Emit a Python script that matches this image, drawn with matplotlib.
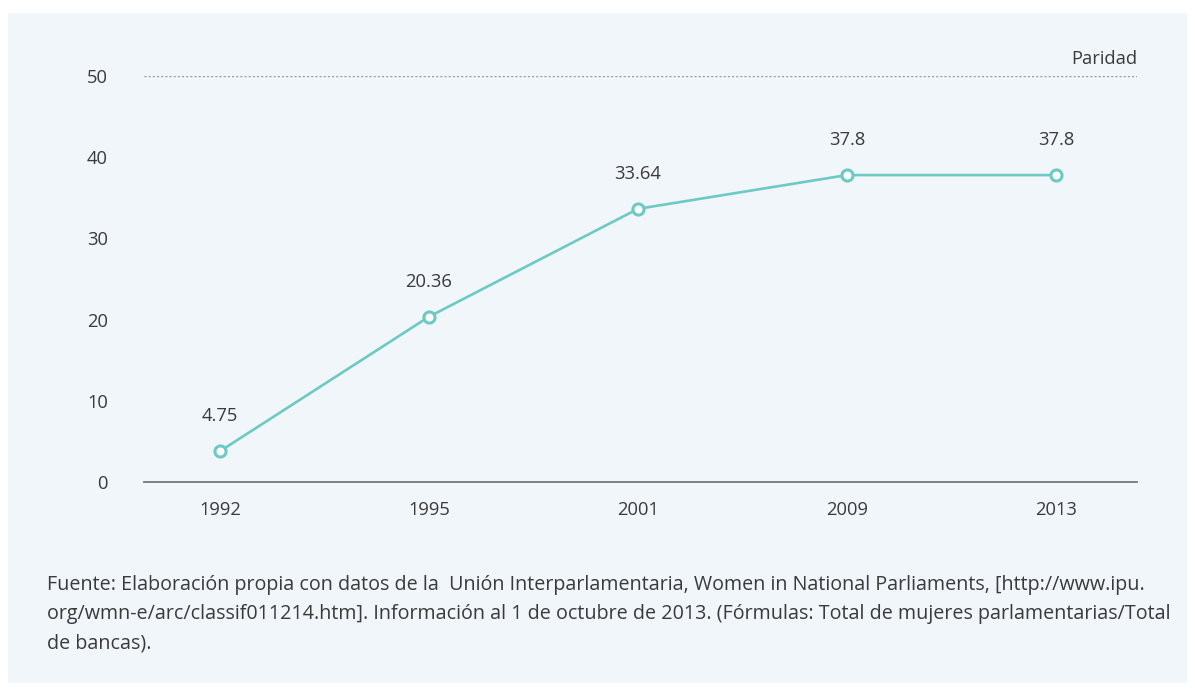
import matplotlib.pyplot as plt
from matplotlib.patches import Rectangle

plt.rcParams['font.family'] = ['Open Sans', 'DejaVu Sans']

# Data
years = ["1992", "1995", "2001", "2009", "2013"]
values = [3.8, 20.36, 33.64, 37.8, 37.8]
value_labels = ["4.75", "20.36", "33.64", "37.8", "37.8"]
y_ticks = [0, 10, 20, 30, 40, 50]
parity = 50

text_color = "#3a3a3a"
line_color = "#6ccac3"
bg_color = "#f1f6fb"

fig = plt.figure(figsize=(11.95, 6.91), dpi=100)
fig.patch.set_facecolor("white")
# light panel behind everything
fig.patches.append(Rectangle((8 / 1195, 1 - 683 / 691), 1179 / 1195, 670 / 691,
                             transform=fig.transFigure, facecolor=bg_color,
                             edgecolor="none", zorder=-5))

ax = fig.add_axes([144 / 1195, 1 - 482 / 691, 993 / 1195, 406 / 691])
ax.set_facecolor("none")
ax.set_zorder(2)

x = list(range(len(years)))
ax.plot(x, values, color=line_color, linewidth=1.9, marker="o", markersize=8,
        markerfacecolor="white", markeredgecolor=line_color, markeredgewidth=2.2,
        clip_on=False, zorder=3)

for xi, v, lab in zip(x, values, value_labels):
    ax.annotate(lab, (xi, v), xytext=(0, 25), textcoords="offset points",
                ha="center", va="center", fontsize=13.2, color=text_color)

# parity reference line
ax.axhline(parity, color="#9a9a9a", linewidth=1, linestyle=(0, (1.5, 1.5)))
ax.text(1.0, parity + 1.0, "Paridad", transform=ax.get_yaxis_transform(),
        ha="right", va="bottom", fontsize=13.2, color=text_color)

ax.set_xlim(-0.364, 4.388)
ax.set_ylim(0, 50)
ax.set_xticks(x)
ax.set_xticklabels(years)
ax.set_yticks(y_ticks)

for s in ["top", "right", "left"]:
    ax.spines[s].set_visible(False)
ax.spines["bottom"].set_color("#777777")
ax.spines["bottom"].set_linewidth(1.3)
ax.tick_params(axis="both", length=0, labelsize=13.2, colors=text_color)
ax.tick_params(axis="x", pad=14)
ax.tick_params(axis="y", pad=26)

footer = ("Fuente: Elaboración propia con datos de la  Unión Interparlamentaria, Women in National Parliaments, [http://www.ipu.\n"
          "org/wmn-e/arc/classif011214.htm]. Información al 1 de octubre de 2013. (Fórmulas: Total de mujeres parlamentarias/Total\n"
          "de bancas).")
fig.text(47 / 1195, 1 - 575 / 691, footer, ha="left", va="top", fontsize=14.2,
         color=text_color, linespacing=1.63)

fig.savefig("out.png", dpi=100, facecolor=fig.get_facecolor())
